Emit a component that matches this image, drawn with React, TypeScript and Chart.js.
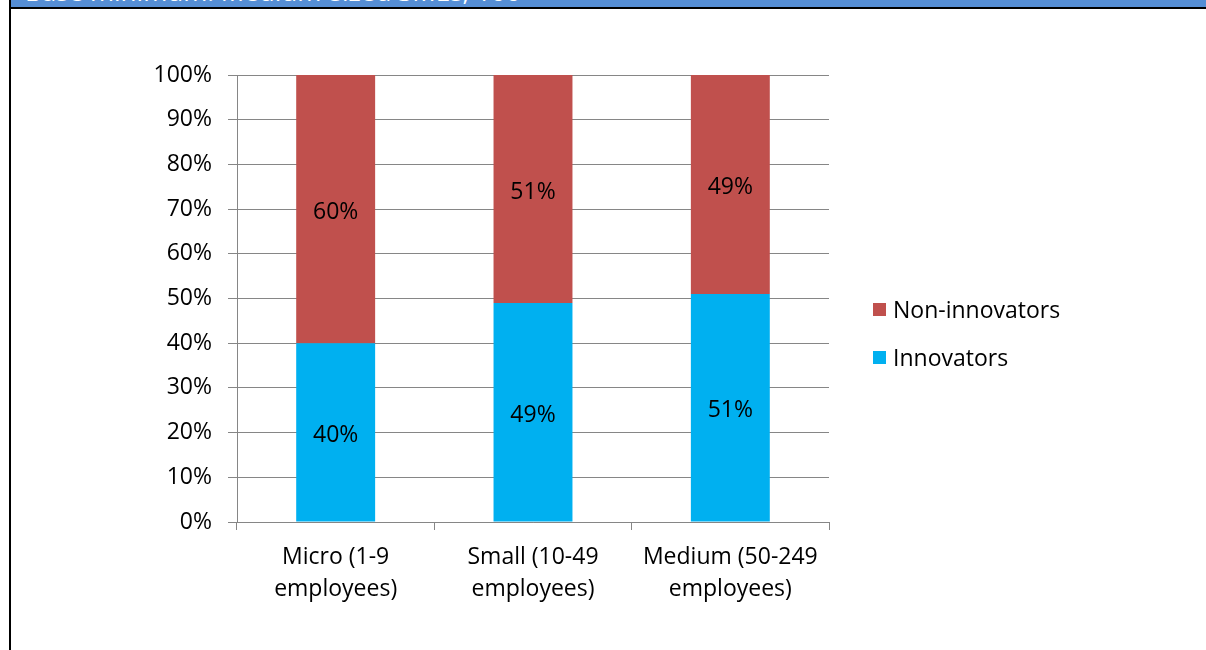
import React, { useEffect, useRef } from "react";
import { Chart, registerables } from "chart.js";

Chart.register(...registerables);

const categories: string[][] = [
  ["Micro (1-9", "employees)"],
  ["Small (10-49", "employees)"],
  ["Medium (50-249", "employees)"],
];
const innovators: number[] = [40, 49, 51];
const nonInnovators: number[] = [60, 51, 49];
const seriesNames: string[] = ["Innovators", "Non-innovators"];
const seriesColors: string[] = ["#00B0F0", "#C0504D"];
const headerText = "Base minimum: Medium-sized SMEs, 100";

const FONT = "'Open Sans', 'Liberation Sans', sans-serif";
const FS = 23;

const labelPlugin = {
  id: "segLabels",
  afterDatasetsDraw(chart: any) {
    const ctx = chart.ctx;
    ctx.save();
    ctx.fillStyle = "#000";
    ctx.font = `${FS}px ${FONT}`;
    ctx.textAlign = "center";
    ctx.textBaseline = "middle";
    chart.data.datasets.forEach((ds: any, di: number) => {
      const meta = chart.getDatasetMeta(di);
      meta.data.forEach((el: any, i: number) => {
        const cy = (el.y + el.base) / 2 + 3;
        ctx.fillText(`${ds.data[i]}%`, el.x, cy);
      });
    });
    ctx.restore();
  },
};

export default function App() {
  const ref = useRef<HTMLCanvasElement | null>(null);
  useEffect(() => {
    if (!ref.current) return;
    const chart = new Chart(ref.current, {
      type: "bar",
      data: {
        labels: categories as any,
        datasets: [
          {
            label: seriesNames[0],
            data: innovators,
            backgroundColor: seriesColors[0],
            categoryPercentage: 1,
            barPercentage: 0.4,
          },
          {
            label: seriesNames[1],
            data: nonInnovators,
            backgroundColor: seriesColors[1],
            categoryPercentage: 1,
            barPercentage: 0.4,
          },
        ],
      },
      options: {
        animation: false,
        responsive: false,
        maintainAspectRatio: false,
        layout: { padding: { left: 0, right: 377, top: 75, bottom: 0 } },
        plugins: {
          legend: { display: false },
          tooltip: { enabled: false },
        },
        scales: {
          x: {
            stacked: true,
            afterFit: (s: any) => {
              s.height = 128;
            },
            grid: {
              display: true,
              drawOnChartArea: false,
              drawTicks: true,
              tickLength: 8,
              color: "#868686",
              lineWidth: 1,
            },
            border: { display: true, color: "#868686", width: 1 },
            ticks: {
              color: "#000",
              font: { family: FONT, size: FS, lineHeight: 1.4 },
              padding: 11,
              maxRotation: 0,
              autoSkip: false,
            },
          },
          y: {
            stacked: true,
            min: 0,
            max: 100,
            afterFit: (s: any) => {
              s.width = 237;
            },
            grid: {
              color: "#868686",
              lineWidth: 1,
              tickLength: 9,
            },
            border: { display: true, color: "#868686", width: 1 },
            ticks: {
              stepSize: 10,
              color: "#000",
              padding: 16,
              font: { family: FONT, size: FS },
              callback: (v: any) => `${v}%`,
            },
          },
        },
      },
      plugins: [labelPlugin],
    });
    return () => chart.destroy();
  }, []);

  const legendItems = [
    { name: seriesNames[1], color: seriesColors[1], top: 296 },
    { name: seriesNames[0], color: seriesColors[0], top: 344 },
  ];

  return (
    <div
      style={{
        position: "fixed",
        left: 0,
        top: 0,
        width: 1206,
        height: 650,
        background: "#fff",
        overflow: "hidden",
        fontFamily: FONT,
      }}
    >
      <canvas
        ref={ref}
        width={1206}
        height={650}
        style={{ position: "absolute", left: 0, top: 0, width: 1206, height: 650 }}
      />
      <div
        style={{
          position: "absolute",
          left: 11,
          top: 0,
          width: 1195,
          height: 7,
          background: "#558ED5",
          overflow: "hidden",
        }}
      >
        <div
          style={{
            position: "absolute",
            left: 14,
            top: -25,
            color: "#fff",
            fontSize: 26,
            lineHeight: "32px",
            whiteSpace: "nowrap",
          }}
        >
          {headerText}
        </div>
      </div>
      <div
        style={{ position: "absolute", left: 9, top: 7, width: 1197, height: 2, background: "#000" }}
      />
      <div
        style={{ position: "absolute", left: 9, top: 0, width: 2, height: 650, background: "#000" }}
      />
      {legendItems.map((it) => (
        <div
          key={it.name}
          style={{
            position: "absolute",
            left: 873,
            top: it.top,
            height: 26,
            display: "flex",
            alignItems: "center",
            whiteSpace: "nowrap",
          }}
        >
          <span
            style={{ display: "inline-block", width: 13, height: 13, background: it.color, marginRight: 7 }}
          />
          <span style={{ fontSize: FS, color: "#000", lineHeight: "26px" }}>{it.name}</span>
        </div>
      ))}
    </div>
  );
}
